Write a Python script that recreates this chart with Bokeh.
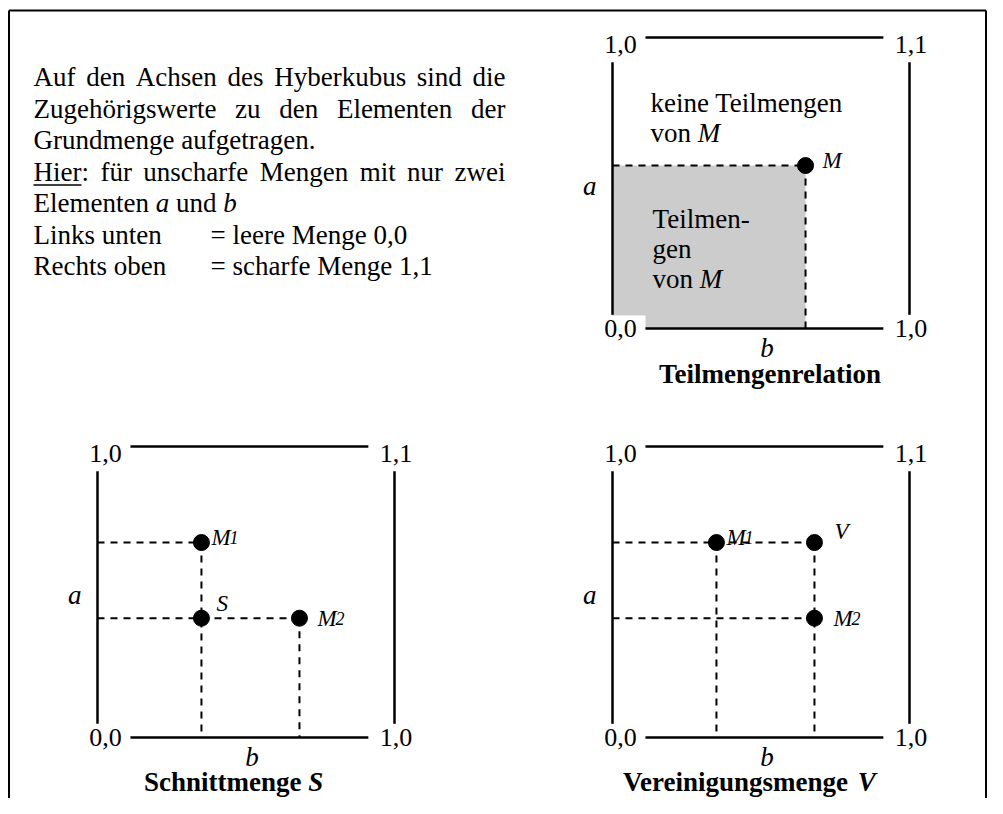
from bokeh.plotting import figure
from bokeh.models import Range1d
from bokeh.core.properties import value
from bokeh.embed import file_html
from bokeh.resources import INLINE

# ---------------- data ----------------
# axis corner labels of each hypercube (top-left, top-right, bottom-left, bottom-right)
corner_labels = ["1,0", "1,1", "0,0", "1,0"]
axis_names = ["a", "b"]

# Teilmengenrelation: fuzzy set M  (b, a)
m_b = [0.65]
m_a = [0.56]

# Schnittmenge: M1, M2 and intersection S
s_names = ["M1", "S", "M2"]
s_b = [0.35, 0.35, 0.68]
s_a = [0.67, 0.41, 0.41]

# Vereinigungsmenge: M1, M2 and union V
v_names = ["M1", "V", "M2"]
v_b = [0.35, 0.68, 0.68]
v_a = [0.67, 0.67, 0.41]

titles = ["Teilmengenrelation", "Schnittmenge ", "Vereinigungsmenge "]

text_lines = [
    "Auf den Achsen des Hyberkubus sind die",
    "Zugehörigswerte zu den Elementen der",
    "Grundmenge aufgetragen.",
    "Hier: für unscharfe Mengen mit nur zwei",
]

# ---------------- layout ----------------
W, H = 987, 798
FONT = value("Liberation Serif")
FS = 27
BASE_FIX = 0.35   # shift so that y is the alphabetic baseline

p = figure(width=W, height=H, x_range=Range1d(0, W), y_range=Range1d(H, 0),
           output_backend="svg", toolbar_location=None, x_axis_location=None,
           y_axis_location=None, min_border=0, outline_line_color=None)
p.background_fill_color = "white"
p.border_fill_color = "white"
try:
    p.grid.grid_line_color = None
except Exception:
    pass

PW, PH = 297.0, 291.0
panels = {"p1": (612.0, 328.0), "p2": (97.0, 737.0), "p3": (612.0, 737.0)}
for name, (x0, y0) in panels.items():
    p.extra_x_ranges[name + "x"] = Range1d((0 - x0) / PW, (W - x0) / PW)
    p.extra_y_ranges[name + "y"] = Range1d((y0 - H) / PH, (y0 - 0) / PH)

# Times metrics (per 1000 em)
REG = {' ': 250, 'A': 722, 'H': 722, 'E': 611, 'G': 722, 'L': 611, 'M': 889, 'R': 667, 'Z': 611,
       'a': 444, 'b': 500, 'c': 444, 'd': 500, 'e': 444, 'f': 333, 'g': 500, 'h': 500, 'i': 278,
       'k': 500, 'l': 278, 'm': 778, 'n': 500, 'o': 500, 'r': 333, 's': 389, 't': 278, 'u': 500,
       'v': 500, 'w': 722, 'y': 500, 'z': 444, 'ö': 500, 'ü': 500, ':': 278, '.': 250, ',': 250,
       '=': 564, '0': 500, '1': 500, '-': 333}
BOLD = {' ': 250, 'S': 556, 'T': 667, 'V': 722, 'a': 500, 'c': 444, 'e': 444, 'g': 500, 'h': 556,
        'i': 278, 'l': 278, 'm': 833, 'n': 556, 'o': 500, 'r': 444, 's': 389, 't': 333, 'u': 556}


def tw(s, table, fs):
    return sum(table.get(ch, 500) for ch in s) * fs / 1000.0


def texts(xs, ys, ts, style="normal", fs=FS, align="left", xo=0, yo=0, rn=None):
    kw = {}
    if rn:
        kw = dict(x_range_name=rn + "x", y_range_name=rn + "y")
    p.text(x=xs, y=ys, text=ts, text_font=FONT, text_font_size=f"{fs}px",
           text_font_style=style, text_color="black", text_align=align,
           text_baseline="alphabetic", x_offset=xo, y_offset=yo - BASE_FIX * fs, **kw)


def txt(x, y, t, style="normal", fs=FS, align="left", xo=0, yo=0, rn=None):
    texts([x], [y], [t], style, fs, align, xo, yo, rn)


# ---------------- frame ----------------
p.segment(x0=[8.5, 8.5, 985.5], y0=[10, 10, 10], x1=[8.5, 985.5, 985.5], y1=[798, 10, 798],
          line_color="black", line_width=2)

# ---------------- text block ----------------
LX, RX = 33.0, 505.0
base = [86, 117.5, 149, 180.5, 212, 243.5, 275]


def justified(line, y):
    words = line.split(" ")
    widths = [tw(w, REG, FS) for w in words]
    gap = (RX - LX - sum(widths)) / (len(words) - 1)
    x = LX
    xs = []
    for w in widths:
        xs.append(x)
        x += w + gap
    texts(xs, [y] * len(words), words)


justified(text_lines[0], base[0])
justified(text_lines[1], base[1])
txt(LX, base[2], text_lines[2])
justified(text_lines[3], base[3])
p.segment(x0=[LX], y0=[base[3] + 4], x1=[LX + tw("Hier", REG, FS)], y1=[base[3] + 4],
          line_color="black", line_width=1.5)
sp = 250 * FS / 1000
txt(LX, base[4], "Elementen")
xa = LX + tw("Elementen", REG, FS) + sp
txt(xa, base[4], axis_names[0], "italic")
xu = xa + 500 * FS / 1000 + sp
txt(xu, base[4], "und")
txt(xu + tw("und", REG, FS) + sp, base[4], axis_names[1], "italic")
txt(LX, base[5], "Links unten")
txt(210, base[5], "= leere Menge " + corner_labels[2])
txt(LX, base[6], "Rechts oben")
txt(210, base[6], "= scharfe Menge " + corner_labels[1])


# ---------------- hypercube panels ----------------
def cube(rn):
    kw = dict(x_range_name=rn + "x", y_range_name=rn + "y")
    p.segment(x0=[0.111, 0.111, 0.0, 1.0], y0=[1.0, 0.0, 0.047, 0.047],
              x1=[0.912, 0.912, 0.0, 1.0], y1=[1.0, 0.0, 0.915, 0.915],
              line_color="black", line_width=2.5, **kw)
    texts([0.027, 1.005, 0.027, 1.005], [0.943, 0.943, -0.031, -0.031], corner_labels,
          fs=26, align="center", rn=rn)
    txt(-0.077, 0.457, axis_names[0], "italic", align="center", rn=rn)
    txt(0.52, -0.098, axis_names[1], "italic", align="center", rn=rn)


def dots(rn, bs, as_):
    p.scatter(x=bs, y=as_, size=16, marker="circle", fill_color="black", line_color="black",
              x_range_name=rn + "x", y_range_name=rn + "y")


LFS, SFS = 23, 18


def dlabel(rn, b, a, name, dx, dy):
    txt(b, a, name[0], "italic", fs=LFS, xo=dx, yo=dy, rn=rn)
    if len(name) > 1:
        # subscript digit sits on the same baseline, smaller
        txt(b, a, name[1:], "italic", fs=SFS, xo=dx + 0.833 * LFS - 1,
            yo=dy + BASE_FIX * (SFS - LFS) * -1 * -1 + 0, rn=rn)


DASH = dict(line_color="black", line_width=2, line_dash="7 6")

# Panel 1: Teilmengenrelation
kw1 = dict(x_range_name="p1x", y_range_name="p1y")
p.quad(left=[0.0], right=m_b, bottom=[0.0], top=m_a, fill_color="#cccccc", line_color=None, **kw1)
p.quad(left=[-0.11], right=[0.111], bottom=[-0.06], top=[0.045], fill_color="white",
       line_color=None, **kw1)
cube("p1")
p.segment(x0=[0.0, m_b[0]], y0=[m_a[0], m_a[0]], x1=[m_b[0], m_b[0]], y1=[m_a[0], 0.0],
          **DASH, **kw1)
dots("p1", m_b, m_a)
dlabel("p1", m_b[0], m_a[0], "M", 17, 3)
von_w = tw("von", REG, FS) + sp
txt(0.128, 0.742, "keine Teilmengen", rn="p1")
txt(0.128, 0.639, "von", rn="p1")
txt(0.128, 0.639, "M", "italic", xo=von_w, rn="p1")
txt(0.135, 0.344, "Teilmen-", rn="p1")
txt(0.135, 0.241, "gen", rn="p1")
txt(0.135, 0.137, "von", rn="p1")
txt(0.135, 0.137, "M", "italic", xo=von_w, rn="p1")
txt(0.53, -0.189, titles[0], "bold", align="center", rn="p1")


def title2(rn, bc, ac, main, var):
    main = main.strip()
    w1 = tw(main, BOLD, FS) + sp
    w2 = (556 if var == "S" else 667) * FS / 1000
    tot = w1 + w2
    txt(bc, ac, main, "bold", xo=-tot / 2, rn=rn)
    txt(bc, ac, var, "bold italic", xo=-tot / 2 + w1, rn=rn)


TITLE_A = -0.186

# Panel 2: Schnittmenge
kw2 = dict(x_range_name="p2x", y_range_name="p2y")
cube("p2")
p.segment(x0=[0.0, 0.0, s_b[0], s_b[2]], y0=[s_a[0], s_a[2], s_a[0], s_a[2]],
          x1=[s_b[0], s_b[2], s_b[0], s_b[2]], y1=[s_a[0], s_a[2], 0.0, 0.0], **DASH, **kw2)
dots("p2", s_b, s_a)
dlabel("p2", s_b[0], s_a[0], s_names[0], 10, 3)
dlabel("p2", s_b[1], s_a[1], s_names[1], 15, -7)
dlabel("p2", s_b[2], s_a[2], s_names[2], 18, 8)
title2("p2", 0.458, TITLE_A, titles[1], "S")

# Panel 3: Vereinigungsmenge
kw3 = dict(x_range_name="p3x", y_range_name="p3y")
cube("p3")
p.segment(x0=[0.0, 0.0, v_b[0], v_b[1]], y0=[v_a[1], v_a[2], v_a[0], v_a[1]],
          x1=[v_b[1], v_b[2], v_b[0], v_b[1]], y1=[v_a[1], v_a[2], 0.0, 0.0], **DASH, **kw3)
dots("p3", v_b, v_a)
dlabel("p3", v_b[0], v_a[0], v_names[0], 10, 3)
dlabel("p3", v_b[1], v_a[1], v_names[1], 20, -3)
dlabel("p3", v_b[2], v_a[2], v_names[2], 19, 8)
title2("p3", 0.461, TITLE_A, titles[2], "V")

open("out.html", "w").write(file_html(p, INLINE))
